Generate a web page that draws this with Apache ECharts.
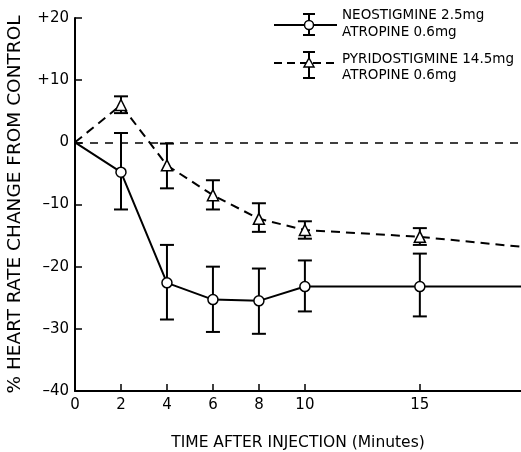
<!DOCTYPE html>
<html><head><meta charset="utf-8">
<script src="https://cdn.jsdelivr.net/npm/echarts@6/dist/echarts.min.js"></script>
<style>html,body{margin:0;padding:0;background:#fff}#c{width:521px;height:452px}</style>
</head><body><div id="c"></div>
<script>
const minutes = [0, 2, 4, 6, 8, 10, 15];
const neoMean = [0, -4.8, -22.6, -25.3, -25.5, -23.2, -23.2];
const neoHigh = [null, 1.5, -16.5, -20, -20.3, -19, -17.9];
const neoLow  = [null, -10.8, -28.5, -30.5, -30.8, -27.2, -28];
const pyrMean = [0, 6, -3.7, -8.5, -12.3, -14.1, -15.2];
const pyrHigh = [null, 7.4, -0.2, -6.1, -9.8, -12.7, -13.8];
const pyrLow  = [null, 4.7, -7.4, -10.8, -14.4, -15.5, -16.5];
const tailX = 19.4;
const neoTail = -23.2;
const pyrTail = -16.8;
const xTickLabels = [0, 2, 4, 6, 8, 10, 15];
const yTickLabels = [-40, -30, -20, -10, 0, 10, 20];

const FONT = 'DejaVu Sans';
const chart = echarts.init(document.getElementById('c'), null, {renderer: 'canvas'});

function lineData(means, tail) {
  const d = minutes.map((m, i) => ({value: [m, means[i]], symbol: i === 0 ? 'none' : undefined}));
  d.push({value: [tailX, tail], symbol: 'none'});
  return d;
}
function errData(highs, lows) {
  const d = [];
  minutes.forEach((m, i) => { if (highs[i] !== null) d.push([m, lows[i], highs[i]]); });
  return d;
}
function errRender(params, api) {
  const x = api.value(0);
  const lo = api.coord([x, api.value(1)]);
  const hi = api.coord([x, api.value(2)]);
  const w = 7;
  const st = {stroke: '#000', lineWidth: 2};
  return {type: 'group', children: [
    {type: 'line', shape: {x1: lo[0], y1: lo[1], x2: hi[0], y2: hi[1]}, style: st},
    {type: 'line', shape: {x1: lo[0]-w, y1: lo[1], x2: lo[0]+w, y2: lo[1]}, style: st},
    {type: 'line', shape: {x1: hi[0]-w, y1: hi[1], x2: hi[0]+w, y2: hi[1]}, style: st}
  ]};
}

const legendText = {fill: '#000', font: '13.5px "' + FONT + '"', textVerticalAlign: 'middle'};
chart.setOption({
  animation: false,
  grid: {left: 75, right: 0, top: 18, bottom: 61, outerBoundsMode: 'none', containLabel: false},
  xAxis: {
    type: 'value', min: 0, max: tailX,
    name: 'TIME AFTER INJECTION (Minutes)', nameLocation: 'middle', nameGap: 44,
    nameTextStyle: {fontFamily: FONT, fontSize: 15.5, color: '#000', align: 'center'},
    axisLine: {onZero: false, lineStyle: {color: '#000', width: 2}},
    axisTick: {inside: true, length: 7, lineStyle: {color: '#000', width: 1.5}, customValues: [2, 4, 6, 8, 10, 15]},
    axisLabel: {customValues: xTickLabels, color: '#000', fontFamily: FONT, fontSize: 15, margin: 7},
    splitLine: {show: false}
  },
  yAxis: {
    type: 'value', min: -40, max: 20, interval: 10,
    name: '% HEART RATE CHANGE FROM CONTROL', nameLocation: 'middle', nameGap: 50,
    nameTextStyle: {fontFamily: FONT, fontSize: 18.5, color: '#000'},
    axisLine: {onZero: false, lineStyle: {color: '#000', width: 2}},
    axisTick: {inside: true, length: 7, lineStyle: {color: '#000', width: 1.5}, customValues: [-30, -20, -10, 0, 10, 20]},
    axisLabel: {color: '#000', fontFamily: FONT, fontSize: 15, margin: 6,
      formatter: v => v > 0 ? '+' + v : (v < 0 ? '\u2013' + (-v) : '0')},
    splitLine: {show: false}
  },
  series: [
    {type: 'custom', renderItem: errRender, data: errData(neoHigh, neoLow), z: 1, encode: {x: 0, y: [1, 2]}},
    {type: 'custom', renderItem: errRender, data: errData(pyrHigh, pyrLow), z: 1, encode: {x: 0, y: [1, 2]}},
    {type: 'line', data: lineData(neoMean, neoTail), symbol: 'circle', symbolSize: 10,
      lineStyle: {color: '#000', width: 2}, itemStyle: {color: '#fff', borderColor: '#000', borderWidth: 1.5}, z: 3,
      markLine: {silent: true, symbol: 'none', label: {show: false},
        lineStyle: {color: '#000', width: 1.5, type: [8, 7]}, data: [{yAxis: 0}]}},
    {type: 'line', data: lineData(pyrMean, pyrTail), symbol: 'triangle', symbolSize: [11, 11],
      lineStyle: {color: '#000', width: 2, type: [9, 6]}, itemStyle: {color: '#fff', borderColor: '#000', borderWidth: 1.5}, z: 3}
  ],
  graphic: [
    {type: 'line', shape: {x1: 274, y1: 25, x2: 337, y2: 25}, style: {stroke: '#000', lineWidth: 2}},
    {type: 'line', shape: {x1: 309, y1: 14, x2: 309, y2: 35}, style: {stroke: '#000', lineWidth: 2}},
    {type: 'line', shape: {x1: 303, y1: 14, x2: 315, y2: 14}, style: {stroke: '#000', lineWidth: 2}},
    {type: 'line', shape: {x1: 303, y1: 35, x2: 315, y2: 35}, style: {stroke: '#000', lineWidth: 2}},
    {type: 'circle', shape: {cx: 309, cy: 25, r: 4.5}, style: {fill: '#fff', stroke: '#000', lineWidth: 1.5}},
    {type: 'text', left: 342, top: 8, style: Object.assign({text: 'NEOSTIGMINE 2.5mg'}, legendText)},
    {type: 'text', left: 342, top: 25, style: Object.assign({text: 'ATROPINE 0.6mg'}, legendText)},
    {type: 'line', shape: {x1: 274, y1: 63, x2: 337, y2: 63}, style: {stroke: '#000', lineWidth: 2, lineDash: [8, 5]}},
    {type: 'line', shape: {x1: 309, y1: 52, x2: 309, y2: 78}, style: {stroke: '#000', lineWidth: 2}},
    {type: 'line', shape: {x1: 303, y1: 52, x2: 315, y2: 52}, style: {stroke: '#000', lineWidth: 2}},
    {type: 'line', shape: {x1: 303, y1: 78, x2: 315, y2: 78}, style: {stroke: '#000', lineWidth: 2}},
    {type: 'polygon', shape: {points: [[309, 58], [314, 67], [304, 67]]}, style: {fill: '#fff', stroke: '#000', lineWidth: 1.5}},
    {type: 'text', left: 342, top: 52, style: Object.assign({text: 'PYRIDOSTIGMINE 14.5mg'}, legendText)},
    {type: 'text', left: 342, top: 68, style: Object.assign({text: 'ATROPINE 0.6mg'}, legendText)}
  ]
});
</script></body></html>
